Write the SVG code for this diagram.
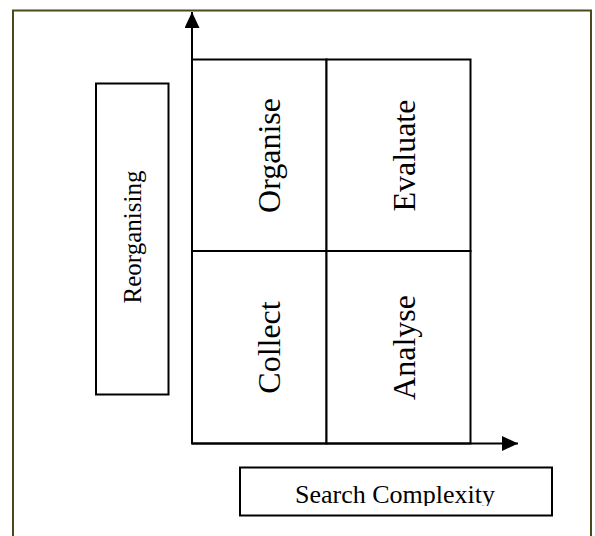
<svg xmlns="http://www.w3.org/2000/svg" width="595" height="536" viewBox="0 0 595 536">
  <style>
    .box { fill: #ffffff; stroke: #000000; stroke-width: 2; }
    .axis { fill: none; stroke: #000000; stroke-width: 2; }
    .label { font-family: "Liberation Serif", "Times New Roman", serif; fill: #000000; text-anchor: middle; }
    .cell { font-size: 32px; }
    .small { font-size: 25px; }
    .caption { font-size: 26px; }
  </style>
  <defs>
    <marker id="arrow" markerWidth="16" markerHeight="15" refX="16" refY="7.5" orient="auto" markerUnits="userSpaceOnUse" viewBox="0 0 16 15">
      <path d="M0,0 L16,7.5 L0,15 Z" fill="#000000"/>
    </marker>
    <clipPath id="searchClip">
      <rect x="240" y="468" width="312" height="38"/>
    </clipPath>
  </defs>

  <!-- page frame -->
  <rect x="0" y="0" width="595" height="536" fill="#ffffff"/>
  <rect id="frame" x="13" y="10.5" width="578" height="540" fill="none" stroke="#4a4a1c" stroke-width="2"/>

  <!-- quadrant cells -->
  <g id="organise">
    <rect class="box" x="192" y="59.5" width="134.5" height="191.5"/>
    <text class="label cell" transform="translate(280,155.5) rotate(-90)">Organise</text>
  </g>
  <g id="evaluate">
    <rect class="box" x="326.5" y="59.5" width="144" height="191.5"/>
    <text class="label cell" transform="translate(415,155.5) rotate(-90)">Evaluate</text>
  </g>
  <g id="collect">
    <rect class="box" x="192" y="251" width="134.5" height="192.5"/>
    <text class="label cell" transform="translate(280,347.5) rotate(-90)">Collect</text>
  </g>
  <g id="analyse">
    <rect class="box" x="326.5" y="251" width="144" height="192.5"/>
    <text class="label cell" transform="translate(415,347.5) rotate(-90)">Analyse</text>
  </g>

  <!-- axis labels -->
  <g id="reorganising">
    <rect class="box" x="96" y="83.5" width="72.5" height="311"/>
    <text class="label small" transform="translate(141,237) rotate(-90)">Reorganising</text>
  </g>
  <g id="search-complexity">
    <rect class="box" x="240" y="467.5" width="312" height="48"/>
    <text class="label caption" x="395" y="503" clip-path="url(#searchClip)">Search Complexity</text>
  </g>

  <!-- axes -->
  <g id="connectors">
    <line class="axis" x1="192" y1="443.5" x2="192" y2="12" marker-end="url(#arrow)"/>
    <line class="axis" x1="192" y1="443.5" x2="518" y2="443.5" marker-end="url(#arrow)"/>
  </g>
</svg>
